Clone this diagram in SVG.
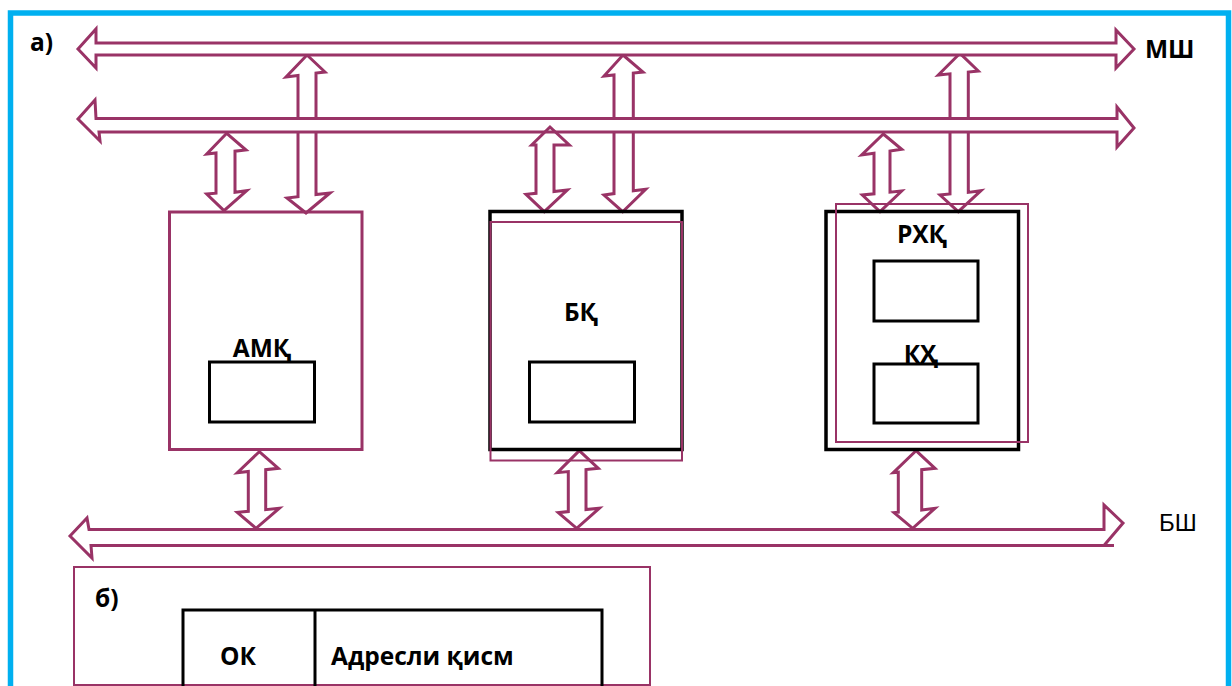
<svg xmlns="http://www.w3.org/2000/svg" width="1232" height="686" viewBox="0 0 1232 686">
<style>
.p{fill:none;stroke:#993366;stroke-width:3;stroke-linejoin:miter}
.bus{fill:#fff;stroke:#993366;stroke-width:3}
.pt{fill:none;stroke:#993366;stroke-width:2}
.bk{fill:none;stroke:#000;stroke-width:3.5}
.bi{fill:none;stroke:#000;stroke-width:3}
.t{font-family:"Open Sans","Liberation Sans",Arial,sans-serif;font-weight:bold;font-size:24.5px;fill:#000}
.r{font-family:"Liberation Sans",Arial,sans-serif;font-size:24px;fill:#000}
</style>
<rect x="10.5" y="13" width="1218" height="700" fill="#fff" stroke="#00B0F0" stroke-width="5.5"/>
<text class="t" x="30" y="51">а)</text>
<g id="connectors">
<polygon class="p" points="307,55 325,72 316,73 316,194.6 330,193 306,213 287,198 298,196.7 298,75.5 286,77"/>
<polygon class="p" points="623,55 643,72 633.3,73 633.3,190.8 645.7,189.3 622.7,211.7 604,195 614,193.6 614,75 604,76"/>
<polygon class="p" points="960,53.3 978.3,71 968.3,72 968.3,192.4 981,190.7 958.3,211.7 940,195 950,194 950,73.8 938.3,75"/>
<polygon id="bus-msh" class="bus" points="78,49 96,29 96,43 1116,43 1116,30 1134,49 1116,68 1116,55 96,55 96,68"/>
<polygon id="bus-2" class="bus" points="78,119 95,100 96,118.5 1117,118.5 1117,107 1134,128 1117,147 1117,132 99,132 100,141"/>
<polygon class="p" points="226.7,133.3 246,150 235,151.2 235,192.3 246.7,190.7 224,210.7 206.7,194 216,193.2 216,153 206.7,154"/>
<polygon class="p" points="550,127 569.3,145 554,145 554,191.6 567.3,190 544.3,211.7 526,194.3 536,193.3 536,145 531.7,145"/>
<polygon class="p" points="883.3,134 901.7,149.3 890,151 890,192.2 901.7,191 880,211.7 862.3,195 874,193.8 874,153.3 861.7,155"/>
<polygon class="p" points="259.3,451.7 278.3,468.3 265.7,469.7 265.7,509.7 279.3,508.3 256,528.3 237.3,512.3 248.3,511.3 248.3,471.5 237.3,472.7"/>
<polygon class="p" points="579.3,450.7 598.3,468.3 586,469.6 586,509.6 599.3,508.3 576.7,528.3 558.3,512.7 568.3,511.6 568.3,471.6 557.3,472.7"/>
<polygon class="p" points="916,450.7 935,468.3 921.7,469.7 921.7,510 935,508.3 912.7,528.3 894,512.7 898.3,512.2 898.3,472.2 893.3,472.7"/>
<polygon id="bus-bsh" class="bus" points="70,536 87,518 89,529.5 1104,529.5 1104,505 1123,523 1104,545.5 91,545.5 92,558"/>
<line class="p" x1="1104" y1="545.5" x2="1114" y2="545.5"/>
</g>
<text class="t" x="1145" y="58">МШ</text>
<text class="r" x="1159" y="531">БШ</text>
<g id="amk">
<rect class="p" x="169.5" y="212" width="192.5" height="237.5"/>
<rect class="bi" x="209.5" y="362" width="105" height="60"/>
<text class="t" x="262" y="357" text-anchor="middle">АМҚ</text>
</g>
<g id="bk">
<rect class="bk" x="490" y="211.5" width="192" height="238"/>
<rect class="pt" x="490.5" y="222" width="191.5" height="238.5"/>
<rect class="bi" x="529.5" y="362" width="105" height="60"/>
<text class="t" x="581" y="321" text-anchor="middle">БҚ</text>
</g>
<g id="rxk">
<rect class="bk" x="826" y="211.5" width="192.5" height="238"/>
<rect class="pt" x="836" y="204" width="192" height="238"/>
<rect class="bi" x="874" y="261" width="104" height="60"/>
<rect class="bi" x="874" y="364" width="104" height="59"/>
<text class="t" x="922" y="243" text-anchor="middle">РХҚ</text>
<text class="t" x="921" y="363" text-anchor="middle">КҲ</text>
</g>
<g id="panel-b">
<rect class="pt" x="74" y="567" width="576" height="118"/>
<text class="t" x="95" y="607">б)</text>
<polyline class="bi" points="183,686 183,610 602,610 602,686"/>
<line class="bi" x1="315" y1="610" x2="315" y2="686"/>
<text class="t" x="220" y="665">ОК</text>
<text class="t" x="331" y="665">Адресли қисм</text>
</g>
</svg>
